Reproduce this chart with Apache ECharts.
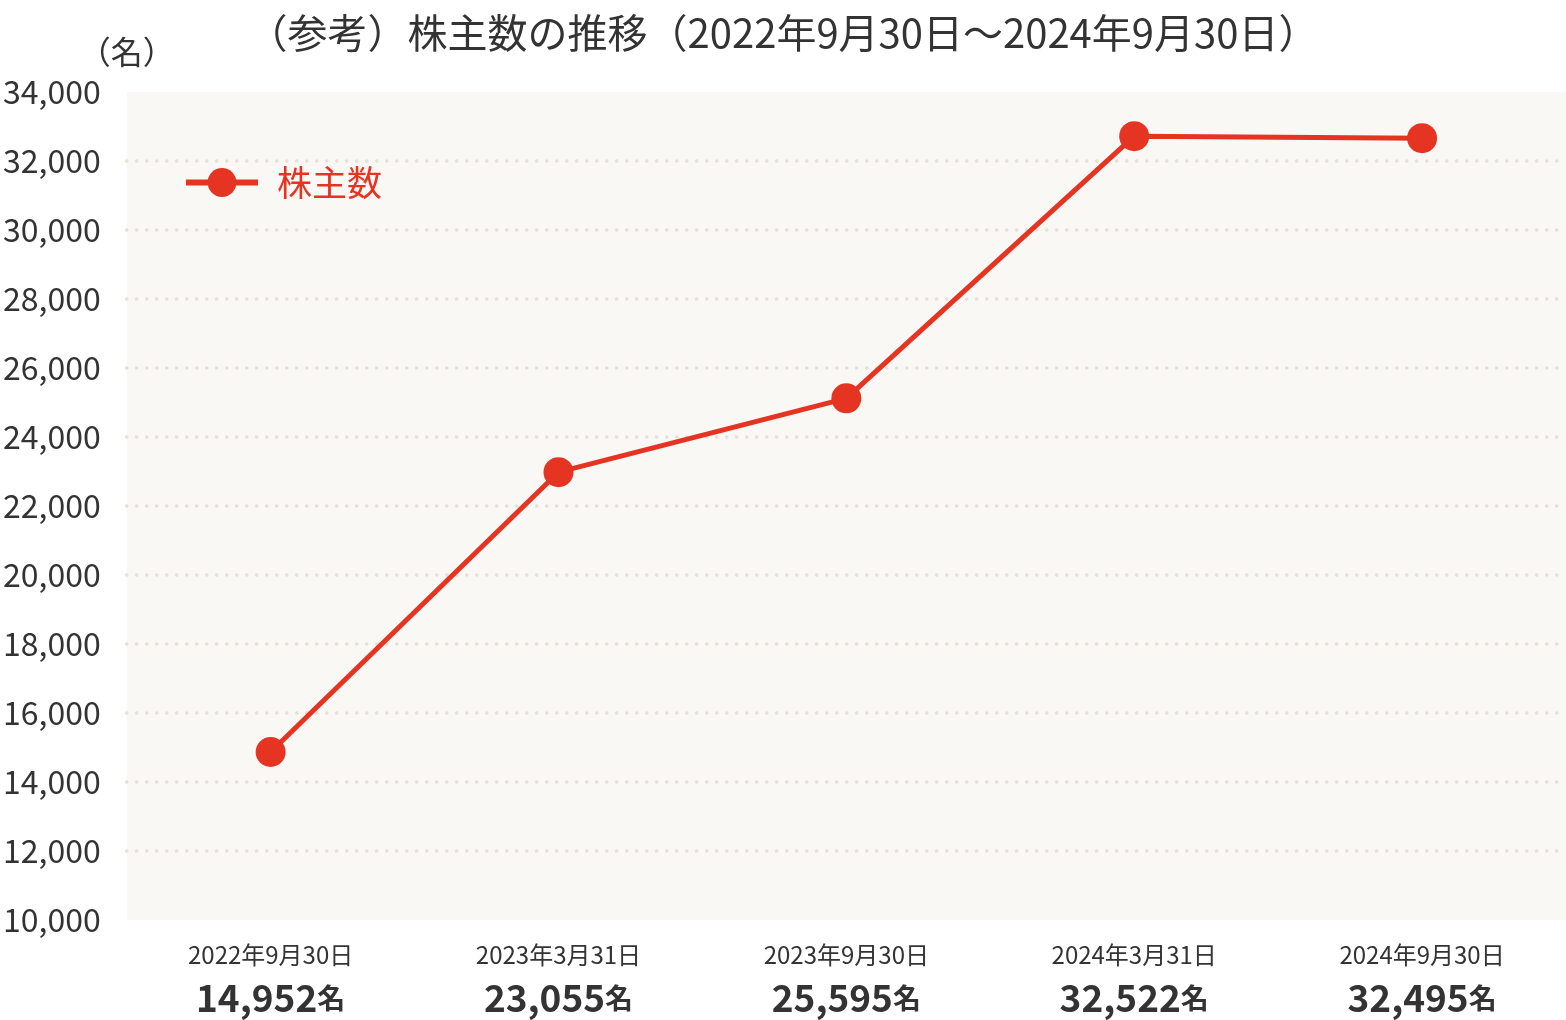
<!DOCTYPE html>
<html><head><meta charset="utf-8">
<script src="https://cdn.jsdelivr.net/npm/echarts@6/dist/echarts.min.js"></script>
<style>html,body{margin:0;padding:0;background:#fff}#c{width:1566px;height:1020px}</style>
</head><body><div id="c"></div>
<script>
const categories = ['2022年9月30日','2023年3月31日','2023年9月30日','2024年3月31日','2024年9月30日'];
const labelValues = ['14,952','23,055','25,595','32,522','32,495'];
const plotted = [14870, 22980, 25120, 32720, 32660];
const seriesName = '株主数';
const titleText = '（参考）株主数の推移（2022年9月30日～2024年9月30日）';
const yUnit = '（名）';
const FONT = '"Noto Sans CJK JP", "Noto Sans", sans-serif';
const RED = '#e63422';
const chart = echarts.init(document.getElementById('c'));
chart.setOption({
  animation: false,
  backgroundColor: '#ffffff',
  textStyle: { fontFamily: FONT },
  title: { text: titleText, left: 'center', top: 8,
    textStyle: { fontFamily: FONT, fontSize: 40, fontWeight: 'normal', color: '#333333' } },
  legend: { left: 178, top: 160, itemWidth: 72, itemHeight: 36,
    data: [seriesName],
    lineStyle: { width: 6 },
    textStyle: { fontFamily: FONT, fontSize: 35, color: RED, padding: [0,0,0,14] } },
  grid: { left: 126, right: 0, top: 92, bottom: 100, show: true, backgroundColor: '#f9f8f4', borderWidth: 0 },
  xAxis: { type: 'category', data: categories, boundaryGap: true,
    axisLine: { show: false }, axisTick: { show: false },
    axisLabel: { margin: 17, interval: 0,
      formatter: (v, i) => '{d|' + v + '}\n{v|' + labelValues[i] + '}{u|名}',
      rich: {
        d: { fontFamily: FONT, fontSize: 24, color: '#333333', lineHeight: 36 },
        v: { fontFamily: FONT, fontSize: 37, fontWeight: 'bold', color: '#333333', lineHeight: 50 },
        u: { fontFamily: FONT, fontSize: 28, fontWeight: 'bold', color: '#333333', lineHeight: 50 }
      } } },
  yAxis: { type: 'value', min: 10000, max: 34000, interval: 2000,
    name: yUnit, nameLocation: 'end', nameGap: 24,
    nameTextStyle: { fontFamily: FONT, fontSize: 32, color: '#333333', align: 'center' },
    axisLine: { show: false }, axisTick: { show: false },
    axisLabel: { margin: 26, fontFamily: FONT, fontSize: 32, color: '#333333',
      formatter: v => v.toLocaleString('en-US') },
    splitLine: { show: true, showMinLine: false, showMaxLine: false,
      lineStyle: { color: '#e4e0d6', width: 3.5, type: [0.1, 9.9], cap: 'round' } } },
  series: [{ name: seriesName, type: 'line', data: plotted,
    symbol: 'circle', symbolSize: 30,
    lineStyle: { color: RED, width: 5 },
    itemStyle: { color: RED } }]
});
</script></body></html>
